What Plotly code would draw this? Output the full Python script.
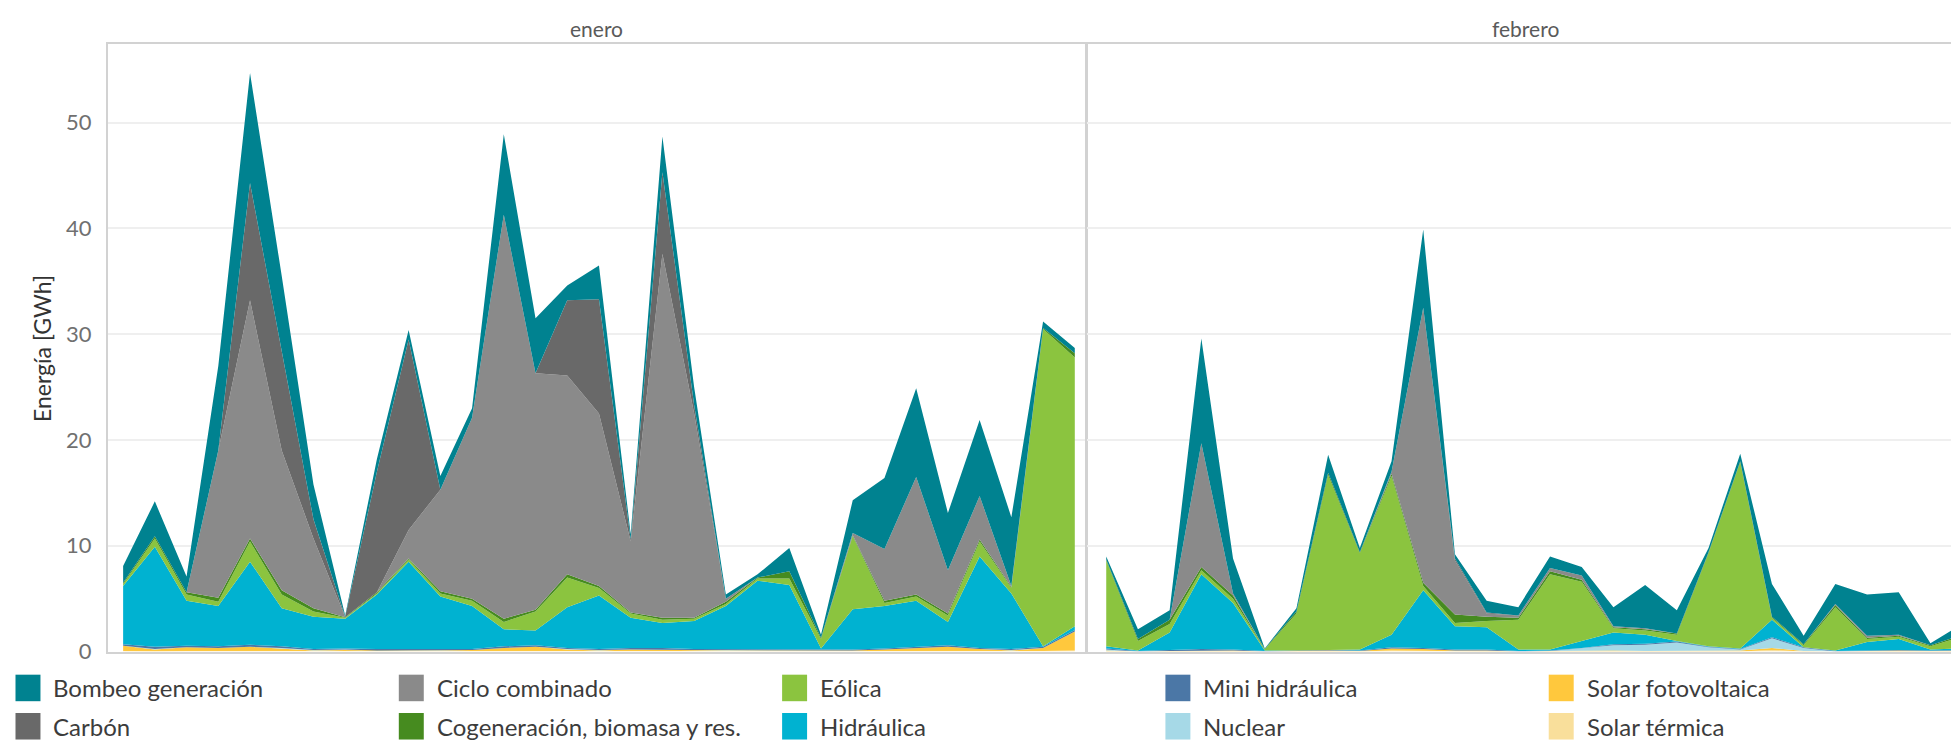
import plotly.graph_objects as go

W, H = 1959, 746

# ---------------- data ----------------
meses = ["enero", "febrero"]
dias_enero = list(range(1, 32))
dias_febrero = list(range(1, 29))

# stacking order, bottom -> top
series = ["Solar térmica", "Solar fotovoltaica", "Nuclear", "Mini hidráulica", "Hidráulica",
          "Eólica", "Cogeneración, biomasa y res.", "Ciclo combinado", "Carbón", "Bombeo generación"]

colores = ["#f9df9b", "#ffc83d", "#a6d9e7", "#4b77a6", "#00b2d1",
           "#8bc43f", "#468b1f", "#8a8a8a", "#696969", "#008290"]

# legend reading order (two rows, five columns)
orden_leyenda = ["Bombeo generación", "Ciclo combinado", "Eólica", "Mini hidráulica", "Solar fotovoltaica",
                 "Carbón", "Cogeneración, biomasa y res.", "Hidráulica", "Nuclear", "Solar térmica"]

# enero (GWh per day)
ene_solar_termica = [0.05, 0, 0.05, 0.05, 0.05, 0, 0, 0, 0, 0, 0, 0, 0.05, 0.05, 0, 0, 0, 0, 0, 0,
                     0, 0, 0, 0, 0, 0, 0.05, 0.05, 0, 0.05, 0.1]
ene_solar_fv = [0.5, 0.2, 0.35, 0.3, 0.4, 0.3, 0.1, 0.15, 0.1, 0.1, 0.1, 0.15, 0.3, 0.4, 0.2, 0.1,
                0.2, 0.15, 0.1, 0.1, 0.1, 0.1, 0.1, 0.1, 0.2, 0.3, 0.4, 0.2, 0.1, 0.3, 1.8]
ene_nuclear = [0, 0.05, 0, 0, 0, 0.05, 0.05, 0.05, 0, 0, 0, 0, 0, 0, 0.05, 0.05, 0, 0, 0.05, 0.05,
               0.05, 0, 0, 0, 0, 0, 0, 0, 0.05, 0, 0]
ene_mini_hidraulica = [0.15, 0.2, 0.15, 0.15, 0.2, 0.15, 0.1, 0.1, 0.15, 0.15, 0.1, 0.1, 0.15, 0.15,
                       0.1, 0.1, 0.15, 0.2, 0.1, 0.1, 0.1, 0.15, 0.1, 0.1, 0.1, 0.15, 0.15, 0.1, 0.1,
                       0.1, 0.15]
ene_hidraulica = [5.5, 9.45, 4.25, 3.8, 7.85, 3.6, 3.05, 2.8, 5.15, 8.25, 5.0, 4.05, 1.6, 1.4, 3.85,
                  5.05, 2.85, 2.35, 2.65, 4.05, 6.45, 6.05, 0.1, 3.8, 4.0, 4.35, 2.2, 8.65, 5.25,
                  0.05, 0.35]
ene_eolica = [0.2, 0.8, 0.6, 0.4, 1.9, 1.3, 0.5, 0.1, 0.1, 0.2, 0.3, 0.5, 0.7, 1.8, 2.8, 0.7, 0.4,
              0.3, 0.2, 0.2, 0.2, 0.6, 0.9, 6.9, 0.3, 0.4, 0.6, 1.4, 0.5, 30.0, 25.4]
ene_cogeneracion = [0.1, 0.2, 0.2, 0.4, 0.3, 0.4, 0.3, 0.05, 0.1, 0.1, 0.2, 0.2, 0.3, 0.15, 0.3, 0.2,
                    0.1, 0.2, 0.1, 0.2, 0.1, 0.7, 0.1, 0.1, 0.2, 0.2, 0.2, 0.2, 0.1, 0.1, 0.4]
ene_ciclo = [0, 0, 0, 13.9, 22.5, 13.2, 6.6, 0, 0, 2.7, 9.6, 17.1, 38.2, 22.35, 18.8, 16.3, 6.7,
             34.4, 19.3, 0.3, 0, 0, 0, 0.2, 4.9, 11.1, 4.1, 4.1, 0.1, 0, 0]
ene_carbon = [0, 0, 0, 0, 11.1, 9.3, 1.8, 0.05, 11.4, 18.0, 0, 0, 0, 0, 7.1, 10.8, 0.2, 7.7, 0.8, 0,
              0, 0, 0, 0, 0, 0, 0, 0, 0, 0, 0]
ene_bombeo = [1.6, 3.3, 1.5, 8.0, 10.4, 7.2, 3.3, 0.1, 1.2, 0.9, 1.3, 0.9, 7.6, 5.2, 1.4, 3.2, 0.5,
              3.4, 1.7, 0.4, 0.3, 2.2, 0.3, 3.1, 6.7, 8.4, 5.4, 7.2, 6.5, 0.6, 0.5]

# febrero (GWh per day)
feb_solar_termica = [0, 0, 0, 0, 0, 0, 0, 0, 0, 0.1, 0.05, 0, 0, 0, 0, 0, 0, 0, 0, 0, 0, 0.15, 0, 0,
                     0, 0, 0, 0]
feb_solar_fv = [0.1, 0, 0.05, 0.1, 0.1, 0, 0.05, 0.1, 0.05, 0.2, 0.2, 0.1, 0.1, 0, 0.05, 0.1, 0.1,
                0.05, 0.05, 0.1, 0.1, 0.2, 0.05, 0, 0.05, 0.1, 0.05, 0.1]
feb_nuclear = [0.1, 0, 0, 0, 0, 0, 0, 0, 0, 0, 0, 0, 0, 0, 0, 0.2, 0.5, 0.6, 0.8, 0.3, 0.1, 0.9, 0.3,
               0, 0, 0, 0, 0]
feb_mini_hidraulica = [0.1, 0.05, 0.1, 0.15, 0.1, 0.05, 0.05, 0.05, 0.05, 0.1, 0.1, 0.1, 0.1, 0.05,
                       0.05, 0.05, 0.1, 0.1, 0.1, 0.05, 0.05, 0.1, 0.05, 0.05, 0.05, 0.05, 0.05, 0.05]
feb_hidraulica = [0.2, 0.05, 1.65, 7.05, 4.4, 0.05, 0.0, 0.0, 0.1, 1.2, 5.45, 2.2, 2.1, 0.15, 0.1,
                  0.65, 1.1, 0.85, 0.05, 0.05, 0.05, 1.65, 0.0, 0.05, 0.8, 1.05, 0.1, 0.15]
feb_eolica = [8.1, 0.9, 0.8, 0.4, 0.4, 0.1, 3.5, 16.55, 9.1, 15.0, 0.4, 0.3, 0.6, 2.8, 7.1, 5.6, 0.4,
              0.4, 0.6, 8.8, 17.6, 0.2, 0.2, 4.1, 0.3, 0.2, 0.3, 1.1]
feb_cogeneracion = [0.1, 0.2, 0.4, 0.3, 0.3, 0.05, 0.2, 0.2, 0.1, 0.2, 0.3, 0.8, 0.4, 0.2, 0.3, 0.2,
                    0.1, 0.1, 0.1, 0.1, 0.1, 0.1, 0.1, 0.2, 0.1, 0.1, 0.1, 0.2]
feb_ciclo = [0, 0, 0, 11.7, 0.2, 0, 0, 0, 0, 0.2, 26.0, 5.1, 0.3, 0.2, 0.3, 0.4, 0.1, 0.1, 0, 0, 0, 0,
             0, 0.1, 0.2, 0.1, 0, 0]
feb_carbon = [0, 0, 0, 0, 0, 0, 0, 0, 0, 0, 0, 0.2, 0.1, 0, 0, 0, 0, 0, 0, 0, 0, 0, 0, 0, 0, 0, 0, 0]
feb_bombeo = [0.3, 0.9, 0.9, 9.9, 3.3, 0.05, 0.3, 1.7, 0.4, 1.0, 7.4, 0.4, 1.1, 0.8, 1.1, 0.8, 1.8,
              4.1, 2.2, 0.4, 0.7, 3.1, 0.8, 1.9, 3.9, 4.0, 0.2, 1.0]

y_ticks = [0, 10, 20, 30, 40, 50]

datos = {
    "enero": [ene_solar_termica, ene_solar_fv, ene_nuclear, ene_mini_hidraulica, ene_hidraulica,
              ene_eolica, ene_cogeneracion, ene_ciclo, ene_carbon, ene_bombeo],
    "febrero": [feb_solar_termica, feb_solar_fv, feb_nuclear, feb_mini_hidraulica, feb_hidraulica,
                feb_eolica, feb_cogeneracion, feb_ciclo, feb_carbon, feb_bombeo],
}
dias = {"enero": dias_enero, "febrero": dias_febrero}

# ---------------- figure ----------------
FONT = "Lato"
fig = go.Figure()

for k, mes in enumerate(meses):
    xa = "x" if k == 0 else "x2"
    ya = "y" if k == 0 else "y2"
    for name, col, vals in zip(series, colores, datos[mes]):
        fig.add_trace(go.Scatter(
            x=dias[mes], y=vals, name=name, mode="lines",
            stackgroup=mes, line=dict(width=0, color=col), fillcolor=col,
            xaxis=xa, yaxis=ya, showlegend=False,
        ))

px = lambda v: v / W
py = lambda v: (H - v) / H

top_px, bot_px = 37, 655
left0, left1, right0 = 100, 1079, 1080

axis_common = dict(showgrid=False, showticklabels=False, ticks="", zeroline=False,
                   showline=True, mirror=True, linecolor="#d2d2d2", linewidth=2)
y_common = dict(range=[0, 57.4], tickvals=y_ticks, showgrid=True, gridcolor="#efefef", gridwidth=1.5,
                zeroline=False, showline=True, mirror=True, linecolor="#d2d2d2", linewidth=2,
                ticks="", domain=[py(bot_px), py(top_px)])

fig.update_layout(
    width=W, height=H,
    margin=dict(l=0, r=0, t=0, b=0),
    paper_bgcolor="white", plot_bgcolor="white",
    font=dict(family=FONT, color="#555555"),
    xaxis=dict(domain=[px(left0), px(left1)], range=[0.52, 31.35], anchor="y", **axis_common),
    xaxis2=dict(domain=[px(right0), 1.0], range=[0.39, 28.09], anchor="y2", **axis_common),
    yaxis=dict(anchor="x", tickfont=dict(family=FONT, size=22, color="#707070"),
               ticklabelstandoff=10, **y_common),
    yaxis2=dict(anchor="x2", matches="y", showticklabels=False, **y_common),
    showlegend=False,
)

# facet titles
for k, mes in enumerate(meses):
    dom = fig.layout.xaxis.domain if k == 0 else fig.layout.xaxis2.domain
    fig.add_annotation(text=mes, x=(dom[0] + dom[1]) / 2, y=py(21), xref="paper", yref="paper",
                       showarrow=False, font=dict(family=FONT, size=21, color="#5a5a5a"),
                       xanchor="center", yanchor="middle")

# y-axis title
fig.add_annotation(text="Energía [GWh]", x=px(34), y=py(346), xref="paper", yref="paper",
                   textangle=-90, showarrow=False, font=dict(family=FONT, size=23, color="#333333"),
                   xanchor="center", yanchor="middle")

# legend (swatches + labels)
col_x0, col_step = 7.5, 383.7
row_y = [692, 731]
sw_w, sw_h = 25, 27
for i, name in enumerate(orden_leyenda):
    r, c = divmod(i, 5)
    x0 = col_x0 + c * col_step
    yc = row_y[r]
    color = colores[series.index(name)]
    fig.add_shape(type="rect", xref="paper", yref="paper",
                  x0=px(x0), x1=px(x0 + sw_w), y0=py(yc + sw_h / 2), y1=py(yc - sw_h / 2),
                  fillcolor=color, line=dict(width=0))
    fig.add_annotation(text=name, x=px(x0 + 36), y=py(yc), xref="paper", yref="paper",
                       showarrow=False, xanchor="left", yanchor="middle",
                       font=dict(family=FONT, size=24, color="#3c3c3c"))

fig.write_html("out.html")
